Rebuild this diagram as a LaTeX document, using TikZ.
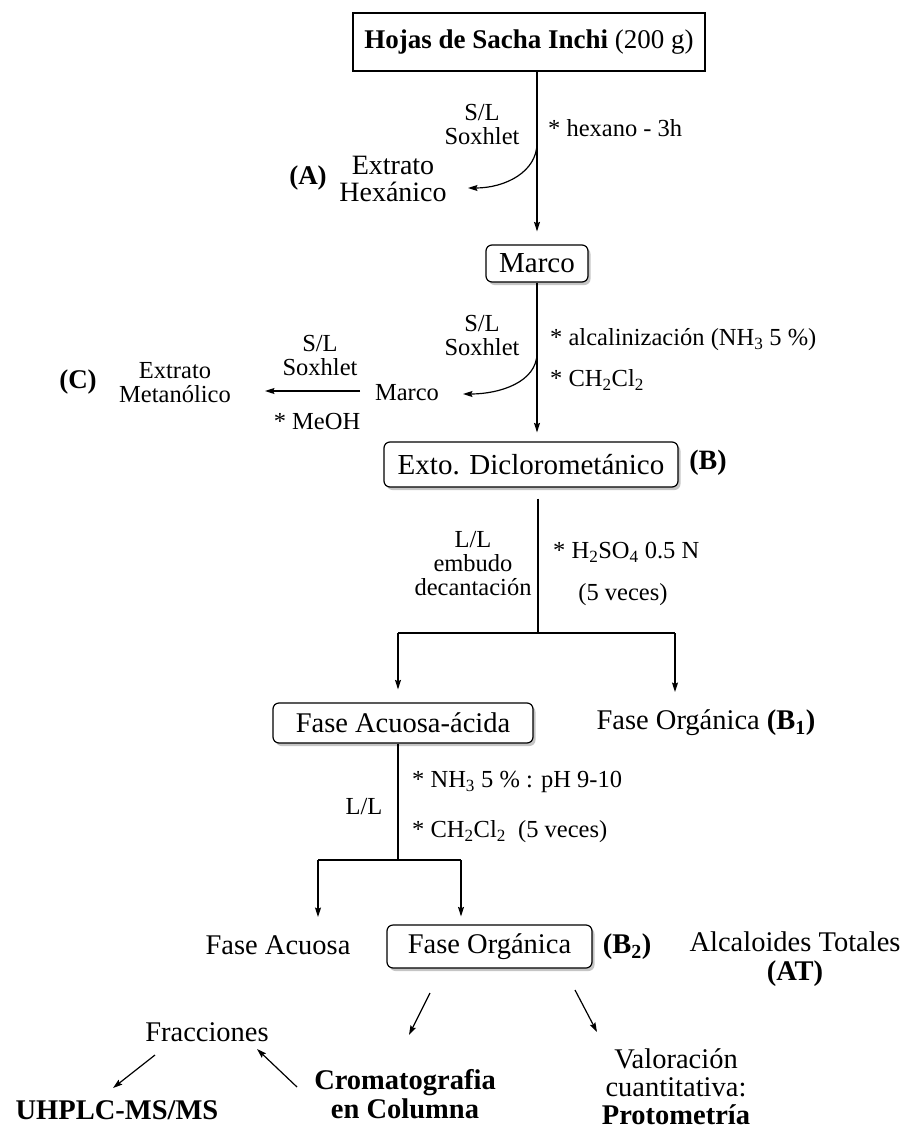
\documentclass[tikz,border=0pt]{standalone}
\usepackage{fontspec}
\setmainfont{Liberation Serif}
\usetikzlibrary{arrows.meta,shadows}
\newcommand{\fsz}[2]{\fontsize{#1}{#2}\selectfont}
\begin{document}
\begin{tikzpicture}[x=1pt,y=-1pt,
  every node/.style={inner sep=0pt, align=center},
  arr/.style={line width=1.2pt,-{Stealth[length=9.5pt,width=6pt,inset=1.5pt]}},
  ln/.style={line width=1.2pt},
  rbox/.style={draw, line width=1.2pt, rounded corners=6pt, fill=white,
    drop shadow={shadow xshift=2.5pt,shadow yshift=-3pt,fill=black!45}},
  tsm/.style={font=\fsz{24.5}{24}},
  tbg/.style={font=\fsz{28.5}{28.5}},
  tbgb/.style={font=\fsz{28.5}{28.5}\bfseries}
]
\useasboundingbox (0,0) rectangle (906,1129);

% top
\node[draw, line width=1.3pt, minimum width=352pt, minimum height=58pt, font=\fsz{27}{27}] (top) at (529,42) {\textbf{Hojas de Sacha Inchi} (200 g)};
\node[rbox, minimum width=102pt, minimum height=37pt, font=\fsz{29}{29}] (marco) at (537,263.5) {Marco};
\draw[arr, shorten >=13pt] (top.south -| marco.north) -- (marco.north);

\coordinate (s1) at (537,143);
\coordinate (e1) at (468,188);
\draw[arr] (s1) .. controls (537,172) and (505,188) .. (e1);
\node[tsm] (sl1) at (482,125) {S/L\\Soxhlet};
\node[tsm, anchor=west] (hexano) at (548,128) {* hexano - 3h};
\node[font=\fsz{27}{27}\bfseries] (A) at (308,178) {(A)};
\node[font=\fsz{28}{27}] (exhex) at (393,179) {Extrato\\Hexánico};

% second stage
\node[rbox, minimum width=294pt, minimum height=45pt, font=\fsz{29}{29}] (exto) at (531,464.5) {Exto. Diclorometánico};
\draw[arr, shorten >=9pt] (marco.south) -- (marco.south |- exto.north);
\coordinate (s2) at (537,353);
\coordinate (e2) at (463,394);
\draw[arr] (s2) .. controls (537,382) and (500,394) .. (e2);
\node[tsm] (sl2) at (482,336) {S/L\\Soxhlet};
\node[tsm, anchor=west] (alc1) at (550,340) {* alcalinización (NH\textsubscript{3} 5 \%)};
\node[tsm, anchor=west] (ch1) at (550,380) {* CH\textsubscript{2}Cl\textsubscript{2}};
\node[tsm] (marco2) at (407,393) {Marco};
\node[tsm] (extmet) at (175,383) {Extrato\\Metanólico};
\node[font=\fsz{27}{27}\bfseries] (C) at (78,382) {(C)};
\coordinate (h1) at (360,391);
\coordinate (h2) at (265,391);
\draw[arr] (h1) -- (h2);
\node[tsm] (sl3) at (320,356) {S/L\\Soxhlet};
\node[tsm] (meoh) at (317,422) {* MeOH};
\node[font=\fsz{28}{28}\bfseries] (B) at (708,463) {(B)};

% third stage
\coordinate (j1) at (538,633);
\coordinate (jl) at (398,633);
\coordinate (jr) at (675,633);
\coordinate (jr2) at (675,692);
\node[rbox, minimum width=260pt, minimum height=40pt, font=\fsz{28.5}{28}] (acida) at (403,723) {Fase Acuosa-ácida};
\node[tbg] (forg1) at (706,723) {Fase Orgánica \textbf{(B\textsubscript{1})}};
\draw[ln, shorten <=11pt] (exto.south -| j1) -- (j1);
\draw[ln] (jl) -- (jr);
\draw[arr, shorten >=13pt] (jl) -- (jl |- acida.north);
\draw[arr] (jr) -- (jr2);
\node[tsm] (ll1) at (473,564) {L/L\\embudo\\decantación};
\node[tsm, anchor=west] (h2so4) at (553,552) {* H\textsubscript{2}SO\textsubscript{4} 0.5 N};
\node[tsm] (veces1) at (623,595) {(5 veces)};

% fourth stage
\coordinate (j2) at (398,860);
\coordinate (kl) at (318,860);
\coordinate (kr) at (461,860);
\coordinate (kl2) at (318,917);
\node[rbox, minimum width=205pt, minimum height=43pt, font=\fsz{28.5}{28}] (forg) at (489.5,946.5) {Fase Orgánica};
\draw[ln] (acida.south -| j2) -- (j2);
\draw[ln] (kl) -- (kr);
\draw[arr] (kl) -- (kl2);
\draw[arr, shorten >=8pt] (kr) -- (kr |- forg.north);
\node[tsm] (ll2) at (364,807) {L/L};
\node[tsm, anchor=west] (nh3) at (412,782) {* NH\textsubscript{3} 5 \% : pH 9-10};
\node[tsm, anchor=west] (ch2) at (412,832) {* CH\textsubscript{2}Cl\textsubscript{2}\ \ (5 veces)};
\node[tbg] (facu) at (278,945) {Fase Acuosa};
\node[tbgb] (B2) at (627,947) {(B\textsubscript{2})};
\node[tbg] (alc) at (795,959) {Alcaloides Totales\\\textbf{(AT)}};

% bottom
\node[tbg] (frac) at (207,1032) {Fracciones};
\node[tbgb] (uhplc) at (117,1110) {UHPLC-MS/MS};
\node[tbgb] (crom) at (405,1094) {Cromatografia\\en Columna};
\node[font=\fsz{28.5}{28}] (val) at (676,1087) {Valoración\\cuantitativa:\\\textbf{Protometría}};

\coordinate (d1a) at (430,993);
\coordinate (d1b) at (409,1035);
\coordinate (d2a) at (575,990);
\coordinate (d2b) at (597,1032);
\coordinate (d3a) at (155,1055);
\coordinate (d3b) at (113,1088);
\coordinate (d4a) at (297,1087);
\coordinate (d4b) at (257,1049);
\draw[arr] (d1a) -- (d1b);
\draw[arr] (d2a) -- (d2b);
\draw[arr] (d3a) -- (d3b);
\draw[arr] (d4a) -- (d4b);
\end{tikzpicture}
\end{document}
